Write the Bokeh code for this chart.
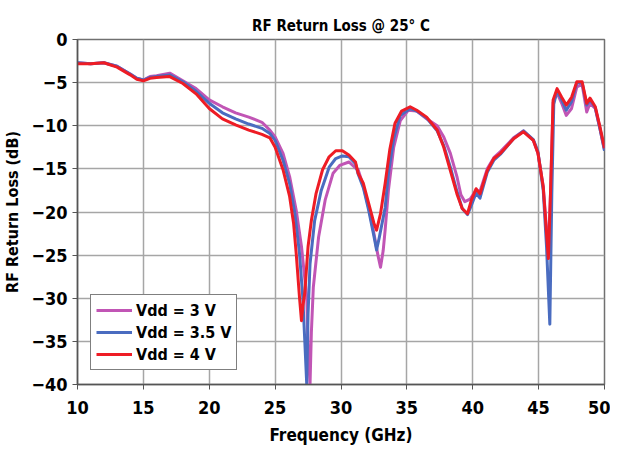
from bokeh.plotting import figure
from bokeh.models import Legend, LegendItem, Range1d, FixedTicker
from bokeh.embed import file_html
from bokeh.resources import INLINE

# ---------------- data ----------------
freq_3v = [10, 11, 12, 13, 14, 14.5, 15, 15.5, 16, 17, 18, 19, 20, 21, 22, 23, 24, 24.6, 25, 25.6,
           26.1, 26.6, 27.0, 27.4, 27.5, 27.65, 27.75, 27.9, 28.3, 28.8, 29.4, 29.9, 30.6, 31.1, 31.3,
           31.7, 32.1, 32.5, 32.8, 33.0, 33.2, 33.35, 33.6, 34.0, 34.5, 35.1, 35.75, 36.5, 37.3, 37.8,
           38.3, 38.8, 39.1, 39.4, 39.8, 40.25, 40.55, 41.1, 41.6, 42.1, 43.1, 43.85, 44.6, 44.95,
           45.35, 45.6, 45.74, 45.9, 46.1, 46.4, 46.75, 47.1, 47.5, 47.9, 48.3, 48.65, 48.9, 49.3,
           49.65, 50]
rl_3v = [-2.7, -2.8, -2.7, -3.1, -4.0, -4.5, -4.7, -4.3, -4.2, -3.9, -4.8, -5.7, -7.0, -7.8, -8.5,
         -9.0, -9.6, -10.5, -11.3, -13.2, -15.9, -19.8, -24.0, -29.9, -35.6, -40.0, -34.0, -28.7,
         -22.9, -18.6, -15.5, -14.6, -14.2, -14.9, -15.1, -17.0, -19.5, -22.5, -25.0, -26.4, -24.5,
         -22.1, -17.5, -12.5, -9.4, -8.2, -8.3, -9.2, -10.0, -11.3, -13.2, -15.9, -18.0, -18.8,
         -18.5, -17.5, -17.6, -15.0, -13.7, -13.0, -11.4, -10.6, -11.7, -13.2, -17.0, -22.0, -24.5,
         -18.0, -7.3, -6.2, -7.4, -8.8, -8.0, -5.5, -5.2, -8.4, -7.4, -8.0, -10.3, -12.8]

freq_35v = [10, 11, 12, 13, 14, 14.5, 15, 15.5, 16, 17, 18, 19, 20, 21, 22, 23, 24, 24.6, 25, 25.6,
            26.1, 26.5, 26.85, 27.1, 27.25, 27.4, 27.5, 27.65, 28.0, 28.5, 29.1, 29.6, 30.1, 30.6,
            31.1, 31.3, 31.7, 32.1, 32.5, 32.7, 32.9, 33.35, 33.6, 34.0, 34.5, 35.25, 35.75, 36.5,
            37.3, 37.8, 38.3, 38.8, 39.2, 39.6, 39.9, 40.25, 40.55, 41.1, 41.6, 42.1, 43.1, 43.85,
            44.6, 44.95, 45.35, 45.6, 45.85, 46.0, 46.15, 46.4, 46.75, 47.1, 47.5, 47.9, 48.3,
            48.65, 48.9, 49.3, 49.65, 50]
rl_35v = [-2.7, -2.8, -2.7, -3.1, -4.0, -4.5, -4.7, -4.4, -4.3, -4.1, -4.9, -6.0, -7.4, -8.5, -9.2,
          -9.8, -10.3, -10.9, -11.7, -14.0, -16.7, -20.2, -24.8, -29.9, -34.9, -40.0, -31.8, -26.0,
          -21.0, -17.5, -14.8, -13.8, -13.5, -13.6, -14.4, -15.6, -17.2, -19.8, -22.8, -24.4, -23.0,
          -19.5, -15.5, -11.5, -8.8, -8.0, -8.3, -9.1, -10.6, -12.3, -14.8, -17.6, -19.6, -20.3,
          -19.2, -17.8, -18.4, -15.4, -14.0, -13.3, -11.5, -10.6, -11.6, -13.0, -17.5, -24.0,
          -33.0, -18.0, -7.5, -5.9, -7.0, -8.2, -7.2, -5.0, -5.0, -7.6, -7.0, -7.9, -10.3, -12.9]

freq_4v = [10, 11, 12, 13, 14, 14.5, 15, 15.5, 16, 17, 18, 19, 20, 21, 22, 23, 24, 24.6, 25, 25.6,
           26.1, 26.4, 26.6, 26.85, 27.0, 27.1, 27.25, 27.5, 27.75, 28.1, 28.6, 29.1, 29.6, 30.1,
           30.6, 31.1, 31.3, 31.7, 32.1, 32.5, 32.7, 33.0, 33.35, 33.7, 34.1, 34.6, 35.25, 35.75,
           36.5, 37.3, 37.8, 38.3, 38.8, 39.2, 39.6, 39.9, 40.25, 40.55, 41.1, 41.6, 42.1, 43.1,
           43.85, 44.6, 44.95, 45.35, 45.6, 45.74, 45.9, 46.1, 46.4, 46.75, 47.1, 47.5, 47.9, 48.3,
           48.65, 48.9, 49.3, 49.65, 50]
rl_4v = [-2.8, -2.8, -2.7, -3.2, -4.1, -4.6, -4.8, -4.5, -4.4, -4.3, -5.1, -6.3, -8.0, -9.2, -9.9,
         -10.5, -11.0, -11.4, -12.5, -15.1, -18.2, -21.3, -24.8, -29.9, -32.6, -31.0, -29.4, -24.0,
         -21.0, -17.9, -15.1, -13.6, -12.9, -12.9, -13.4, -14.2, -15.5, -16.7, -19.0, -21.3, -22.1,
         -20.2, -16.7, -12.8, -9.7, -8.3, -7.8, -8.2, -9.0, -10.5, -12.5, -15.2, -17.9, -19.6,
         -20.2, -18.6, -17.3, -17.9, -15.2, -13.8, -13.2, -11.5, -10.7, -11.7, -13.2, -17.1,
         -22.5, -25.4, -17.9, -7.0, -5.7, -6.7, -7.6, -6.7, -4.9, -4.9, -7.4, -6.8, -7.8, -10.1,
         -12.6]

series_labels = ["Vdd = 3 V", "Vdd = 3.5 V", "Vdd = 4 V"]
series_colors = ["#C155B5", "#4A6CC0", "#EE1C25"]
x_ticks = [10, 15, 20, 25, 30, 35, 40, 45, 50]
y_ticks = [0, -5, -10, -15, -20, -25, -30, -35, -40]

FONT = "DejaVu Sans Condensed, Roboto, sans-serif"

p = figure(width=610, height=447, output_backend="svg", toolbar_location=None,
           x_range=Range1d(10, 50), y_range=Range1d(-40, 0),
           min_border_left=77, min_border_right=6, min_border_top=39, min_border_bottom=63,
           title="RF Return Loss @ 25° C")
p.background_fill_color = "white"
p.border_fill_color = "white"
p.outline_line_color = "#707070"
p.outline_line_width = 1.5

p.title.align = "center"
p.title.text_font = FONT
p.title.text_font_style = "bold"
p.title.text_font_size = "15px"
p.title.text_color = "black"

for ax in (p.xaxis[0], p.yaxis[0]):
    ax.major_label_text_font = FONT
    ax.major_label_text_font_style = "bold"
    ax.major_label_text_font_size = "18px"
    ax.major_label_text_color = "black"
    ax.axis_label_text_font = FONT
    ax.axis_label_text_font_style = "bold"
    ax.axis_label_text_color = "black"
    ax.axis_line_color = "#555555"
    ax.axis_line_width = 1.5
    ax.major_tick_line_color = "#555555"
    ax.major_tick_out = 5
    ax.major_tick_in = 0
    ax.minor_tick_line_color = None

p.xaxis.axis_label_text_font_size = "17px"
p.yaxis.axis_label_text_font_size = "16px"
p.xaxis.ticker = FixedTicker(ticks=x_ticks)
p.yaxis.ticker = FixedTicker(ticks=y_ticks)
p.xaxis.axis_label = "Frequency (GHz)"
p.yaxis.axis_label = "RF Return Loss (dB)"
p.xaxis.axis_label_standoff = 8
p.yaxis.axis_label_standoff = 6
p.xaxis.major_label_standoff = 11
p.yaxis.major_label_standoff = 5

p.xgrid.ticker = FixedTicker(ticks=x_ticks)
p.ygrid.ticker = FixedTicker(ticks=y_ticks)
p.grid.grid_line_color = "#A6A6A6"
p.grid.grid_line_width = 1.5

renderers = []
for fx, fy, col in [(freq_3v, rl_3v, series_colors[0]),
                    (freq_35v, rl_35v, series_colors[1]),
                    (freq_4v, rl_4v, series_colors[2])]:
    r = p.line(fx, fy, line_color=col, line_width=3, line_join="round")
    renderers.append(r)

legend = Legend(items=[LegendItem(label=lab, renderers=[r]) for lab, r in zip(series_labels, renderers)],
                location=(13, 14))
legend.label_text_font = FONT
legend.label_text_font_style = "bold"
legend.label_text_font_size = "16px"
legend.label_text_color = "black"
legend.border_line_color = "black"
legend.border_line_width = 1
legend.glyph_width = 36
legend.glyph_height = 20
legend.spacing = 2
legend.padding = 5
legend.margin = 0
legend.label_standoff = 4
legend.background_fill_alpha = 1
p.add_layout(legend, "center")

open("out.html", "w").write(file_html(p, INLINE))
